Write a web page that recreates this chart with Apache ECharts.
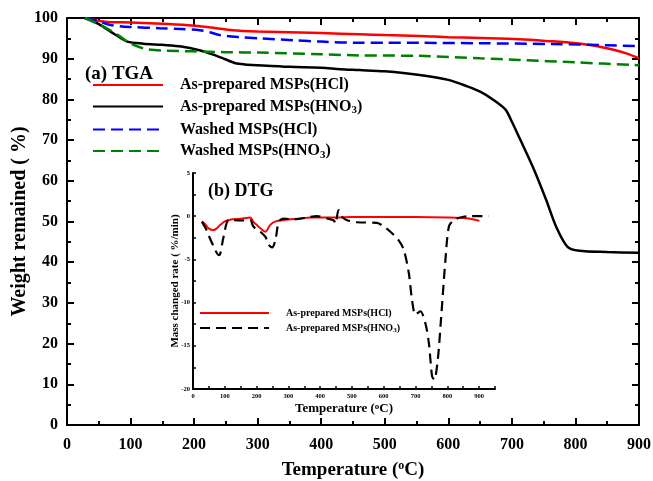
<!DOCTYPE html>
<html>
<head>
<meta charset="utf-8">
<script src="https://cdn.jsdelivr.net/npm/echarts@6/dist/echarts.min.js"></script>
<style>
  html, body { margin: 0; padding: 0; background: #fff; }
  #chart { width: 653px; height: 481px; }
</style>
</head>
<body>
<div id="chart"></div>
<script>
  // TGA curves (main plot)
  const tgaHclT = [28, 60, 100, 160, 200, 230, 260, 300, 400, 460, 500, 555, 600, 650, 712, 760, 800, 830, 860, 880, 900];
  const tgaHclV = [100, 99.1, 98.9, 98.5, 98.1, 97.6, 97, 96.7, 96.3, 96, 95.8, 95.6, 95.3, 95.1, 94.8, 94.3, 93.8, 93.2, 92.2, 91.3, 90.1];

  const tgaHno3T = [28, 50, 75, 95, 120, 150, 180, 210, 230, 250, 265, 280, 300, 350, 400, 430, 460, 500, 555, 600, 630, 650, 670, 690, 700, 712, 733, 754, 770, 788, 806, 850, 900];
  const tgaHno3V = [100, 98.5, 96, 94.2, 93.7, 93.4, 93, 92, 91, 89.8, 88.9, 88.6, 88.4, 88, 87.8, 87.4, 87.2, 86.9, 86, 84.8, 83.2, 81.9, 80, 77.5, 74.5, 70.5, 63.4, 55.3, 48.6, 43.7, 42.8, 42.5, 42.3];

  const washHclT = [28, 50, 68, 100, 146, 180, 209, 225, 240, 270, 303, 360, 400, 461, 500, 555, 650, 764, 850, 900];
  const washHclV = [100, 99.2, 98.3, 97.8, 97.5, 97.3, 97, 96.5, 95.8, 95.3, 95, 94.5, 94.2, 93.9, 93.9, 93.9, 93.8, 93.6, 93.3, 93.1];

  const washHno3T = [28, 50, 68, 85, 99, 115, 126, 150, 198, 250, 303, 400, 461, 555, 650, 712, 800, 900];
  const washHno3V = [100, 98.5, 97, 95.3, 93.8, 92.8, 92.3, 92, 91.8, 91.6, 91.5, 91.1, 90.8, 90.7, 90.1, 89.7, 89.1, 88.4];

  // DTG curves (inset)
  const dtgHclT = [28, 40, 49, 65, 75, 86, 100, 117, 150, 180, 190, 200, 212, 228, 243, 260, 285, 338, 369, 411, 453, 500, 600, 700, 800, 860, 901];
  const dtgHclV = [-0.6, -1.0, -1.4, -1.6, -1.4, -1.0, -0.6, -0.4, -0.3, -0.15, -0.65, -1.0, -1.4, -1.8, -1.0, -0.6, -0.46, -0.27, -0.15, -0.15, -0.15, -0.1, -0.1, -0.1, -0.15, -0.25, -0.54];

  const dtgHno3T = [28, 40, 49, 65, 81, 86, 96, 112, 128, 159, 180, 190, 212, 228, 238, 249, 259, 270, 285, 317, 359, 390, 422, 443, 448, 458, 469, 485, 516, 579, 600, 621, 647, 663, 679, 689, 700, 715, 731, 742, 752, 759, 770, 780, 794, 805, 820, 841, 873, 930];
  const dtgHno3V = [-0.65, -1.4, -2.2, -3.5, -4.5, -4.3, -2.4, -0.46, -0.46, -0.5, -0.46, -1.2, -1.8, -2.4, -3.3, -3.6, -2.8, -0.65, -0.27, -0.38, -0.15, 0, -0.27, -0.5, -0.85, 0.7, -0.08, -0.46, -0.7, -0.77, -1.2, -1.8, -2.8, -3.9, -6.6, -9.7, -11.4, -11, -12.4, -14.7, -18.5, -18.9, -16.6, -12, -5.1, -1.2, -0.46, -0.15, 0, 0];

  const names = ['As-prepared MSPs(HCl)', 'As-prepared MSPs(HNO3)', 'Washed MSPs(HCl)', 'Washed MSPs(HNO3)'];
  const dtgNames = ['DTG As-prepared MSPs(HCl)', 'DTG As-prepared MSPs(HNO3)'];

  const font = '"Liberation Serif", "Times New Roman", serif';

  function pairs(t, v) {
    return t.map((x, i) => [x, v[i]]);
  }

  function subFmt(name) {
    return name.replace('DTG ', '').replace('HNO3', 'HNO{sub|3}');
  }

  const myChart = echarts.init(document.getElementById('chart'));

  const axisLine = { show: true, onZero: false, lineStyle: { color: '#000', width: 2 } };
  const noSymbol = { color: 'rgba(0,0,0,0)', borderColor: 'rgba(0,0,0,0)', borderWidth: 0 };

  const options = {
    animation: false,
    title: [
      { text: '(a) TGA', left: 80, top: 60, textStyle: { fontFamily: font, fontWeight: 'bold', fontSize: 19, color: '#000' } },
      { text: '(b) DTG', left: 203, top: 177, textStyle: { fontFamily: font, fontWeight: 'bold', fontSize: 18, color: '#000' } },
    ],
    legend: [
      {
        data: names,
        orient: 'vertical',
        left: 92,
        top: 77,
        padding: 0,
        itemWidth: 70,
        itemHeight: 14,
        itemGap: 5.5,
        itemStyle: noSymbol,
        formatter: subFmt,
        textStyle: {
          fontFamily: font, fontWeight: 'bold', fontSize: 16, color: '#000', padding: [0, 0, 0, 12],
          rich: { sub: { fontFamily: font, fontWeight: 'bold', fontSize: 11, verticalAlign: 'bottom', padding: [8, 0, 0, 0] } },
        },
      },
      {
        data: dtgNames,
        orient: 'vertical',
        left: 199,
        top: 308,
        padding: 0,
        itemWidth: 69,
        itemHeight: 10,
        itemGap: 5,
        itemStyle: noSymbol,
        formatter: subFmt,
        textStyle: {
          fontFamily: font, fontWeight: 'bold', fontSize: 10, color: '#000', padding: [0, 0, 0, 12],
          rich: { sub: { fontFamily: font, fontWeight: 'bold', fontSize: 7, verticalAlign: 'bottom', padding: [5, 0, 0, 0] } },
        },
      },
    ],
    grid: [
      { left: 67, right: 14, top: 18, bottom: 56, outerBoundsMode: 'none' },
      { left: 193, right: 158, top: 173, bottom: 92, outerBoundsMode: 'none' },
    ],
    xAxis: [
      {
        type: 'value', gridIndex: 0, min: 0, max: 900, interval: 100, position: 'bottom',
        axisLine: axisLine,
        axisTick: { inside: true, length: 7, lineStyle: { width: 2, color: '#000' } },
        minorTick: { show: true, splitNumber: 2, length: 4, lineStyle: { width: 2, color: '#000' } },
        splitLine: { show: false },
        axisLabel: { margin: 12, fontFamily: font, fontWeight: 'bold', fontSize: 16, color: '#000' },
        name: 'Temperature ({sup|o}C)',
        nameLocation: 'middle',
        nameGap: 35,
        nameMoveOverlap: false,
        nameTextStyle: {
          fontFamily: font, fontWeight: 'bold', fontSize: 19, color: '#000',
          rich: { sup: { fontFamily: font, fontWeight: 'bold', fontSize: 12, verticalAlign: 'top', padding: [0, 0, 8, 0] } },
        },
      },
      {
        type: 'value', gridIndex: 0, min: 0, max: 900, interval: 100, position: 'top',
        axisLine: axisLine,
        axisTick: { inside: true, length: 7, lineStyle: { width: 2, color: '#000' } },
        minorTick: { show: true, splitNumber: 2, length: 4, lineStyle: { width: 2, color: '#000' } },
        splitLine: { show: false },
        axisLabel: { show: false },
      },
      {
        type: 'value', gridIndex: 1, min: 0, max: 950, interval: 50,
        axisLine: axisLine,
        axisTick: { inside: true, length: 3, lineStyle: { width: 1.5, color: '#000' } },
        splitLine: { show: false },
        axisLabel: {
          margin: 4, fontFamily: font, fontWeight: 'bold', fontSize: 6.5, color: '#000',
          formatter: (v) => (v % 100 === 0 && v <= 900 ? v : ''),
        },
        name: 'Temperature ({sup|o}C)',
        nameLocation: 'middle',
        nameGap: 13,
        nameMoveOverlap: false,
        nameTextStyle: {
          fontFamily: font, fontWeight: 'bold', fontSize: 13, color: '#000',
          rich: { sup: { fontFamily: font, fontWeight: 'bold', fontSize: 9, verticalAlign: 'top', padding: [0, 0, 5, 0] } },
        },
      },
    ],
    yAxis: [
      {
        type: 'value', gridIndex: 0, min: 0, max: 100, interval: 10, position: 'left',
        axisLine: axisLine,
        axisTick: { inside: true, length: 7, lineStyle: { width: 2, color: '#000' } },
        minorTick: { show: true, splitNumber: 2, length: 4, lineStyle: { width: 2, color: '#000' } },
        splitLine: { show: false },
        axisLabel: { margin: 9, fontFamily: font, fontWeight: 'bold', fontSize: 16, color: '#000' },
        name: 'Weight remained ( %)',
        nameLocation: 'middle',
        nameGap: 37,
        nameMoveOverlap: false,
        nameTextStyle: { fontFamily: font, fontWeight: 'bold', fontSize: 20, color: '#000' },
      },
      {
        type: 'value', gridIndex: 0, min: 0, max: 100, interval: 10, position: 'right',
        axisLine: axisLine,
        axisTick: { inside: true, length: 7, lineStyle: { width: 2, color: '#000' } },
        minorTick: { show: true, splitNumber: 2, length: 4, lineStyle: { width: 2, color: '#000' } },
        splitLine: { show: false },
        axisLabel: { show: false },
      },
      {
        type: 'value', gridIndex: 1, min: -20, max: 5, interval: 2.5,
        axisLine: axisLine,
        axisTick: { inside: true, length: 3, lineStyle: { width: 1.5, color: '#000' } },
        splitLine: { show: false },
        axisLabel: {
          margin: 3, fontFamily: font, fontWeight: 'bold', fontSize: 6.5, color: '#000',
          formatter: (v) => (v % 5 === 0 ? v : ''),
        },
        name: 'Mass changed rate ( %/min)',
        nameLocation: 'middle',
        nameGap: 12,
        nameMoveOverlap: false,
        nameTextStyle: { fontFamily: font, fontWeight: 'bold', fontSize: 11, color: '#000' },
      },
    ],
    series: [
      {
        name: names[0], type: 'line', xAxisIndex: 0, yAxisIndex: 0, data: pairs(tgaHclT, tgaHclV),
        smooth: 0.3, symbol: 'none', lineStyle: { color: '#ff0000', width: 2.5 }, itemStyle: { color: '#ff0000' },
      },
      {
        name: names[1], type: 'line', xAxisIndex: 0, yAxisIndex: 0, data: pairs(tgaHno3T, tgaHno3V),
        smooth: 0.3, symbol: 'none', lineStyle: { color: '#000', width: 2.5 }, itemStyle: { color: '#000' },
      },
      {
        name: names[2], type: 'line', xAxisIndex: 0, yAxisIndex: 0, data: pairs(washHclT, washHclV),
        smooth: 0.3, symbol: 'none', lineStyle: { color: '#0000ff', width: 2.5, type: [12, 6] }, itemStyle: { color: '#0000ff' },
      },
      {
        name: names[3], type: 'line', xAxisIndex: 0, yAxisIndex: 0, data: pairs(washHno3T, washHno3V),
        smooth: 0.3, symbol: 'none', lineStyle: { color: '#008000', width: 2.5, type: [12, 6] }, itemStyle: { color: '#008000' },
      },
      {
        name: dtgNames[0], type: 'line', xAxisIndex: 2, yAxisIndex: 2, data: pairs(dtgHclT, dtgHclV),
        smooth: 0.3, symbol: 'none', lineStyle: { color: '#ff0000', width: 2 }, itemStyle: { color: '#ff0000' },
      },
      {
        name: dtgNames[1], type: 'line', xAxisIndex: 2, yAxisIndex: 2, data: pairs(dtgHno3T, dtgHno3V),
        smooth: 0.3, symbol: 'none', lineStyle: { color: '#000', width: 2.2, type: [10, 6] }, itemStyle: { color: '#000' },
      },
    ],
  };

  myChart.setOption(options);
</script>
</body>
</html>
